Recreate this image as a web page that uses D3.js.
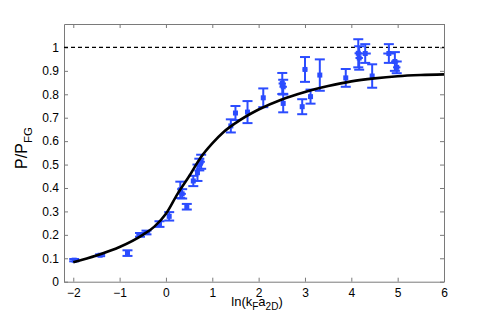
<!DOCTYPE html>
<html>
<head>
<meta charset="utf-8">
<script src="https://cdn.jsdelivr.net/npm/d3@7"></script>
<style>
  body { margin: 0; background: #fff; }
  text { font-family: "Liberation Sans", Arial, sans-serif; }
</style>
</head>
<body>
<div id="chart"></div>
<script>
// measured points: x = ln(kF a2D), y = P/PFG, yErr = vertical half-error
var ptX = [-1.98, -1.42, -0.83, -0.56, -0.42, -0.14, 0.07, 0.31, 0.35, 0.45, 0.59, 0.68, 0.76, 0.72,
           1.40, 1.50, 1.76, 2.10, 2.51, 2.53, 2.53, 2.94, 3.00, 3.12, 3.32, 3.88, 4.15, 4.17, 4.30,
           4.45, 4.81, 4.94, 4.98];
var ptY = [0.092, 0.113, 0.122, 0.200, 0.210, 0.246, 0.279, 0.392, 0.375, 0.320, 0.430, 0.465, 0.512, 0.500,
           0.665, 0.720, 0.724, 0.785, 0.846, 0.832, 0.761, 0.747, 0.906, 0.790, 0.882, 0.870, 0.975, 0.955, 0.974,
           0.878, 0.974, 0.940, 0.915];
var ptErr = [0.005, 0.004, 0.012, 0.008, 0.008, 0.012, 0.018, 0.035, 0.02, 0.012, 0.022, 0.035, 0.03, 0.025,
             0.028, 0.03, 0.047, 0.04, 0.045, 0.03, 0.038, 0.032, 0.053, 0.03, 0.067, 0.038, 0.06, 0.05, 0.04,
             0.05, 0.04, 0.04, 0.025];
var ptXErr = [0, 0.05, 0, 0.08, 0.08, 0, 0, 0.05, 0.08, 0, 0.05, 0, 0.08, 0.08,
              0, 0.05, 0, 0, 0.08, 0.08, 0, 0, 0.05, 0.05, 0, 0, 0.08, 0.08, 0.12,
              0, 0.12, 0.08, 0.08];

// theory curve
var curveX = [-2, -1.5, -1, -0.5, -0.25, 0, 0.25, 0.5, 0.75, 1, 1.25, 1.5, 2, 2.5, 3, 3.5, 4, 4.5, 5, 5.5, 6];
var curveY = [0.083, 0.112, 0.148, 0.2, 0.235, 0.29, 0.375, 0.45, 0.53, 0.59, 0.64, 0.677, 0.735, 0.778,
              0.81, 0.835, 0.855, 0.868, 0.877, 0.882, 0.885];

var xTicks = [-2, -1, 0, 1, 2, 3, 4, 5, 6];
var yTicks = [0, 0.1, 0.2, 0.3, 0.4, 0.5, 0.6, 0.7, 0.8, 0.9, 1];

var margin = { top: 24, right: 47, bottom: 37.3, left: 64 },
    width = 491 - margin.left - margin.right,
    height = 319 - margin.top - margin.bottom;

var svg = d3.select("#chart")
    .append("svg")
    .attr("width", 491)
    .attr("height", 319)
    .append("g")
    .attr("transform", "translate(" + margin.left + "," + margin.top + ")");

var x = d3.scaleLinear().domain([-2.2, 6]).range([0, width]);
var y = d3.scaleLinear().domain([0, 1.1]).range([height, 0]);

var blue = "#2b4cff";
var gray = "#7a7a7a";

// axes box with inward ticks
function styleAxis(g) {
    g.select(".domain").attr("stroke", gray);
    g.selectAll(".tick line").attr("stroke", gray);
    g.selectAll(".tick text").attr("fill", "#000").style("font-size", "12px")
        .style("font-family", "'Liberation Sans', Arial, sans-serif");
}

svg.append("g")
    .attr("transform", "translate(0," + height + ")")
    .call(d3.axisBottom(x).tickValues(xTicks).tickSizeInner(-4).tickSizeOuter(0).tickPadding(7)
        .tickFormat(function (d) { return d < 0 ? "\u2212" + Math.abs(d) : d; }))
    .call(styleAxis);

svg.append("g")
    .call(d3.axisLeft(y).tickValues(yTicks).tickSizeInner(-4).tickSizeOuter(0).tickPadding(5)
        .tickFormat(function (d) { return d3.format("")(+d.toFixed(1)); }))
    .call(styleAxis);

svg.append("g")
    .call(d3.axisTop(x).tickValues(xTicks).tickSizeInner(-4).tickSizeOuter(0).tickFormat(""))
    .call(styleAxis);

svg.append("g")
    .attr("transform", "translate(" + width + ",0)")
    .call(d3.axisRight(y).tickValues(yTicks).tickSizeInner(-4).tickSizeOuter(0).tickFormat(""))
    .call(styleAxis);

// dashed line at 1
svg.append("line")
    .attr("x1", 0).attr("x2", width)
    .attr("y1", y(1)).attr("y2", y(1))
    .attr("stroke", "#000")
    .attr("stroke-width", 1.3)
    .attr("stroke-dasharray", "4,3");

// error bars
var pts = ptX.map(function (d, i) {
    return { x: d, y: ptY[i], e: ptErr[i], xe: ptXErr[i] };
});

var eb = svg.append("g").attr("stroke", blue).attr("stroke-width", 2).attr("fill", "none");
pts.forEach(function (d) {
    var cx = x(d.x), cap = 5;
    eb.append("line").attr("x1", cx).attr("x2", cx).attr("y1", y(d.y - d.e)).attr("y2", y(d.y + d.e));
    eb.append("line").attr("x1", cx - cap).attr("x2", cx + cap).attr("y1", y(d.y - d.e)).attr("y2", y(d.y - d.e));
    eb.append("line").attr("x1", cx - cap).attr("x2", cx + cap).attr("y1", y(d.y + d.e)).attr("y2", y(d.y + d.e));
    if (d.xe > 0) {
        eb.append("line").attr("x1", x(d.x - d.xe)).attr("x2", x(d.x + d.xe)).attr("y1", y(d.y)).attr("y2", y(d.y));
    }
});

svg.append("g")
    .selectAll("rect")
    .data(pts)
    .enter()
    .append("rect")
    .attr("x", function (d) { return x(d.x) - 2.5; })
    .attr("y", function (d) { return y(d.y) - 2.5; })
    .attr("width", 5)
    .attr("height", 5)
    .attr("fill", blue);

// theory curve
var curve = curveX.map(function (d, i) { return [d, curveY[i]]; });
svg.append("path")
    .datum(curve)
    .attr("fill", "none")
    .attr("stroke", "#000")
    .attr("stroke-width", 2.6)
    .attr("d", d3.line()
        .x(function (d) { return x(d[0]); })
        .y(function (d) { return y(d[1]); })
        .curve(d3.curveMonotoneX));

// axis labels
var xl = svg.append("text")
    .attr("x", 193)
    .attr("y", height + 24.5)
    .attr("text-anchor", "middle")
    .style("font-size", "13px");
xl.append("tspan").text("ln(k");
xl.append("tspan").attr("baseline-shift", "-35%").style("font-size", "10px").text("F");
xl.append("tspan").text("a");
xl.append("tspan").attr("baseline-shift", "-35%").style("font-size", "10px").text("2D");
xl.append("tspan").text(")");

var yl = svg.append("text")
    .attr("transform", "translate(" + (27 - margin.left) + "," + (148 - margin.top) + ") rotate(-90)")
    .attr("text-anchor", "middle")
    .style("font-size", "16px");
yl.append("tspan").text("P/P");
yl.append("tspan").attr("baseline-shift", "-45%").style("font-size", "11.5px").text("FG");
</script>
</body>
</html>
